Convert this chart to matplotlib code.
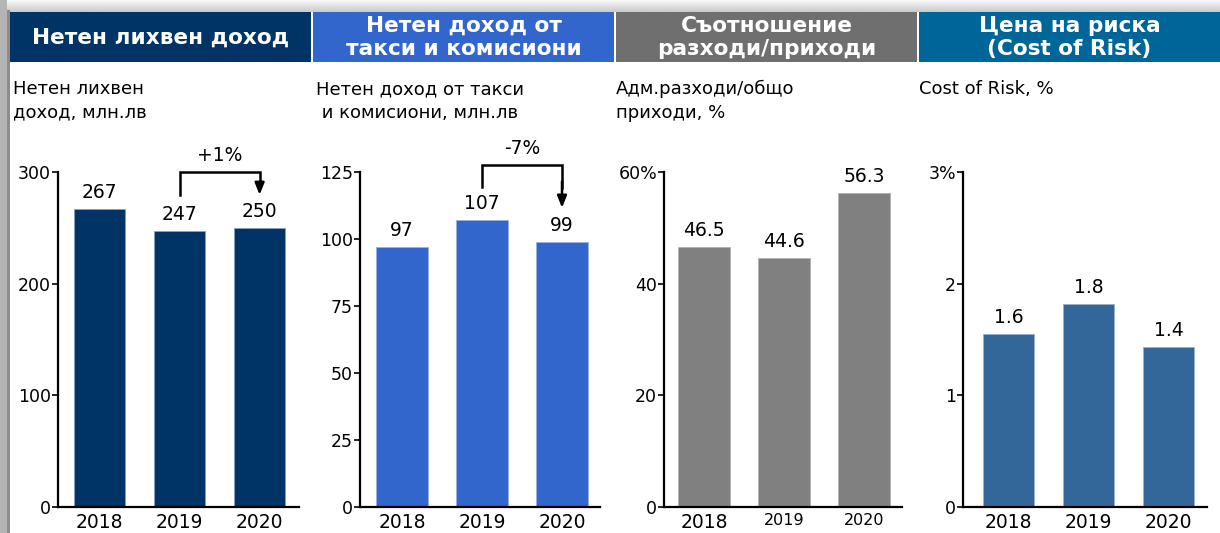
import matplotlib
matplotlib.use("Agg")
import matplotlib.pyplot as plt
import numpy as np
from matplotlib.patches import Rectangle

plt.rcParams['font.family'] = ['DejaVu Sans']

years = ["2018", "2019", "2020"]

nii_values = [267, 247, 250]
nii_labels = ["267", "247", "250"]
fee_values = [97, 107, 99]
fee_labels = ["97", "107", "99"]
cir_values = [46.5, 44.6, 56.3]
cir_labels = ["46.5", "44.6", "56.3"]
cor_values = [1.55, 1.82, 1.43]
cor_labels = ["1.6", "1.8", "1.4"]

headers = ["Нетен лихвен доход", "Нетен доход от\nтакси и комисиони",
           "Съотношение\nразходи/приходи", "Цена на риска\n(Cost of Risk)"]
subtitles = ["Нетен лихвен\nдоход, млн.лв", "Нетен доход от такси\n и комисиони, млн.лв",
             "Адм.разходи/общо\nприходи, %", "Cost of Risk, %"]
nii_ticks = [0, 100, 200, 300]
nii_ticklabels = ["0", "100", "200", "300"]
fee_ticks = [0, 25, 50, 75, 100, 125]
fee_ticklabels = ["0", "25", "50", "75", "100", "125"]
cir_ticks = [0, 20, 40, 60]
cir_ticklabels = ["0", "20", "40", "60%"]
cor_ticks = [0, 1, 2, 3]
cor_ticklabels = ["0", "1", "2", "3%"]

W, H = 1220, 533
fig = plt.figure(figsize=(W / 100, H / 100), dpi=100)

# background shadow edges
bg = fig.add_axes([0, 0, 1, 1])
bg.set_xlim(0, W)
bg.set_ylim(H, 0)
bg.axis("off")
top = np.linspace(0.97, 0.80, 12).reshape(-1, 1)
bg.imshow(np.repeat(top, 2, axis=1), cmap="gray", vmin=0, vmax=1,
          extent=(0, W, 12, 0), aspect="auto", interpolation="bilinear")
bg.add_patch(Rectangle((0, 0), 7, H, color="#b4b4b4", lw=0))
bg.add_patch(Rectangle((7, 10), 2.5, H, color="#8c8c8c", lw=0))

header_colors = ["#003366", "#3366cc", "#6f6f6f", "#006699"]
header_x = [(10, 311), (313, 614), (616, 917), (919, 1220)]
for (x0, x1), c, t in zip(header_x, header_colors, headers):
    bg.add_patch(Rectangle((x0, 12), x1 - x0, 50, color=c, lw=0))
    bg.text((x0 + x1) / 2, 37.5, t, color="white", fontsize=15.6, fontweight="bold",
            ha="center", va="center", linespacing=1.2)

sub_x = [13, 316, 616, 919]
for x, t in zip(sub_x, subtitles):
    bg.text(x, 80, t, fontsize=13, ha="left", va="top", linespacing=1.4)

bar_colors = ["#003366", "#3366cc", "#808080", "#336699"]
edge_colors = ["#8aa0b8", "#9ab0e0", "#b0b0b0", "#9ab0c8"]
panels = [
    (nii_values, nii_labels, nii_ticks, nii_ticklabels, 58, 299, -0.52),
    (fee_values, fee_labels, fee_ticks, fee_ticklabels, 360, 600, -0.525),
    (cir_values, cir_labels, cir_ticks, cir_ticklabels, 664, 902, -0.5),
    (cor_values, cor_labels, cor_ticks, cor_ticklabels, 963, 1207, -0.57),
]
y0_px, y1_px = 507, 172
axes = []
for i, (vals, labs, ticks, tlabs, xl, xr, lo) in enumerate(panels):
    span = (xr - xl) / 80.0
    ax = fig.add_axes([xl / W, 1 - y0_px / H, (xr - xl) / W, (y0_px - y1_px) / H])
    ax.patch.set_alpha(0)
    x = np.arange(len(years))
    ax.bar(x, vals, width=0.64, color=bar_colors[i], edgecolor=edge_colors[i], linewidth=0.6)
    ax.set_xlim(lo, lo + span)
    ax.set_ylim(0, ticks[-1])
    ax.set_yticks(ticks)
    ax.set_yticklabels(tlabs, fontsize=12.5)
    ax.set_xticks(x)
    ax.set_xticklabels(years, fontsize=13.5)
    if i == 2:
        for k, lab in enumerate(ax.get_xticklabels()):
            if k > 0:
                lab.set_fontsize(11.5)
    ax.tick_params(axis="x", length=0, pad=4)
    ax.tick_params(axis="y", length=4, width=1.2, pad=1, direction="out")
    for s in ["top", "right"]:
        ax.spines[s].set_visible(False)
    for s in ["left", "bottom"]:
        ax.spines[s].set_linewidth(1.6)
    for xi, v, l in zip(x, vals, labs):
        ax.annotate(l, (xi, v), xytext=(0, 5), textcoords="offset points",
                    ha="center", va="bottom", fontsize=13.5)
    axes.append(ax)

def bracket(ax, x_from, x_to, y_start, y_top, y_tip, y_text, txt):
    ax.plot([x_from, x_from, x_to, x_to], [y_start, y_top, y_top, y_tip + 0.5 * (y_top - y_tip)],
            color="black", lw=1.8, clip_on=False, solid_joinstyle="miter")
    ax.annotate("", xy=(x_to, y_tip), xytext=(x_to, y_top - (y_top - y_tip) * 0.3),
                arrowprops=dict(arrowstyle="-|>,head_length=0.7,head_width=0.28", color="black", lw=1.8),
                annotation_clip=False)
    ax.text((x_from + x_to) / 2, y_text, txt, ha="center", va="center", fontsize=13.5, clip_on=False)

bracket(axes[0], 1, 2, 279, 300, 277, 315, "+1%")
bracket(axes[1], 1, 2, 119.4, 127.6, 110.6, 133.8, "-7%")

fig.savefig("out.png", dpi=100)
